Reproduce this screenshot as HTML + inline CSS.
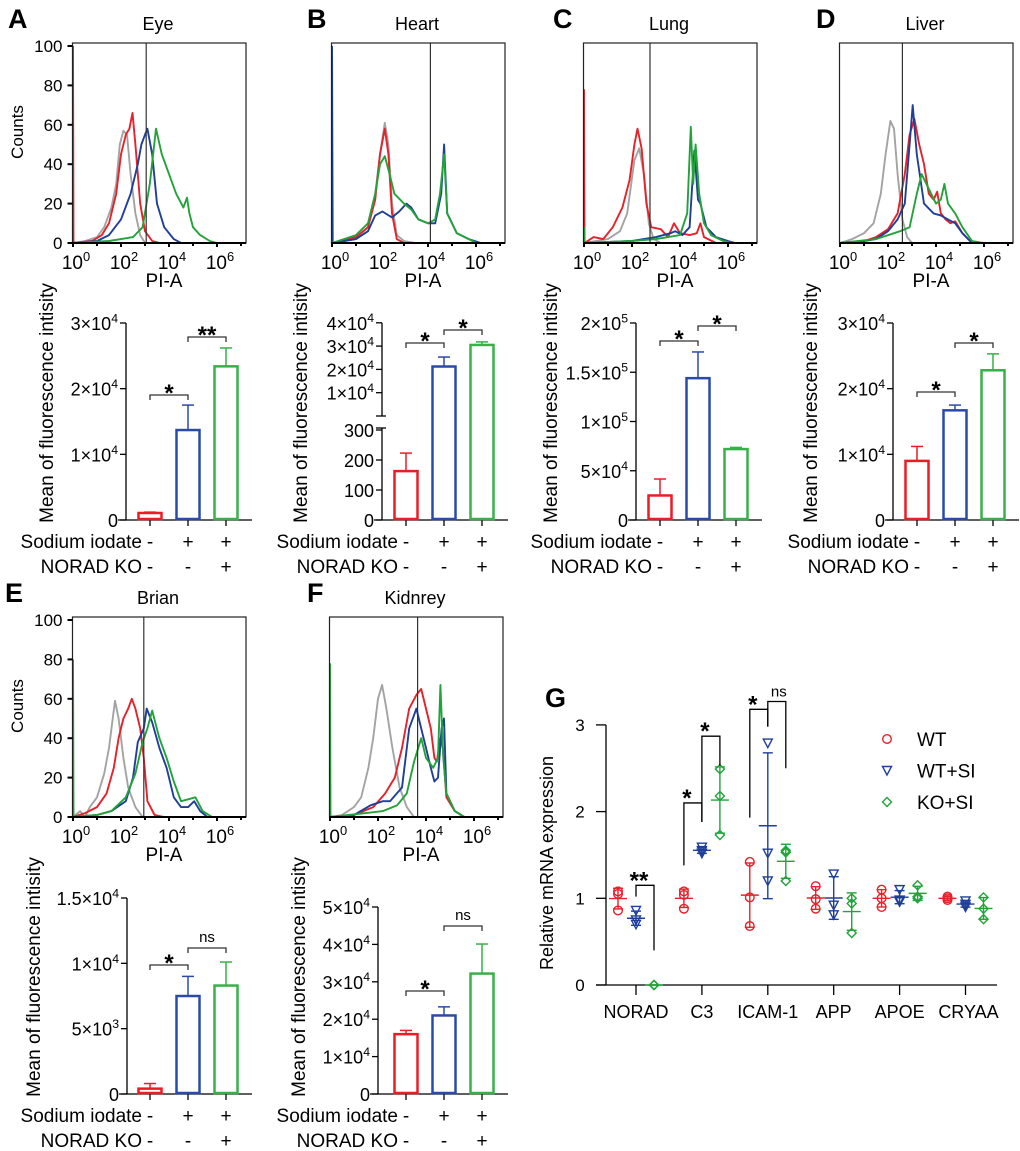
<!DOCTYPE html>
<html><head><meta charset="utf-8"><style>
html,body{margin:0;padding:0;background:#fff}
svg{display:block;font-family:"Liberation Sans",Arial,sans-serif}
</style></head><body>
<svg id="fig" xmlns="http://www.w3.org/2000/svg" width="1020" height="1151" viewBox="0 0 1020 1151"></svg>
<script>
// ---------- Histogram data: [log10(PI-A), counts] ----------
const histEyeGray=[[0,0],[0.5,1],[1,3],[1.3,8],[1.6,18],[1.8,30],[1.95,50],[2.1,57],[2.25,55],[2.4,35],[2.6,15],[2.8,4],[3.0,0],[7.2,0]];
const histEyeRed=[[0,100],[0.02,0],[0.8,1],[1.2,4],[1.5,10],[1.8,25],[2.0,45],[2.2,55],[2.35,58],[2.48,66],[2.6,50],[2.8,20],[3.0,6],[3.3,1],[3.6,0],[7.2,0]];
const histEyeBlue=[[0,0],[1,1],[1.5,4],[2,12],[2.4,25],[2.7,40],[2.85,50],[3.0,55],[3.1,58],[3.3,45],[3.5,20],[3.8,8],[4.2,2],[4.5,0],[7.2,0]];
const histEyeGreen=[[0,0],[1.5,1],[2.5,3],[2.9,8],[3.2,30],[3.46,58],[3.7,45],[4.0,35],[4.3,25],[4.6,18],[4.75,23],[4.85,15],[5.0,8],[5.3,4],[5.7,1],[6.0,0],[7.2,0]];
const histHeartGray=[[0,0],[1,2],[1.5,8],[1.8,25],[2.0,45],[2.2,61],[2.35,50],[2.5,20],[2.7,4],[3.0,1],[3.5,0],[7.2,0]];
const histHeartRed=[[0,0],[1,3],[1.5,8],[1.8,22],[2.0,45],[2.2,58],[2.35,45],[2.5,15],[2.7,2],[3,0],[7.2,0]];
const histHeartGreen=[[0,0],[1,4],[1.5,10],[1.8,25],[2.0,40],[2.2,44],[2.4,35],[2.6,25],[3.0,20],[3.3,17],[3.6,12],[4.0,10],[4.3,12],[4.5,25],[4.67,45],[4.8,15],[5.2,5],[5.7,2],[6,0],[7.2,0]];
const histHeartBlue=[[0,100],[0.03,0],[1,2],[1.5,6],[1.8,14],[2.1,16],[2.5,13],[2.8,16],[3.1,20],[3.3,18],[3.6,12],[4.0,10],[4.3,10],[4.55,25],[4.67,50],[4.8,15],[5.2,5],[5.7,2],[6.2,0],[7.2,0]];
const histLungGray=[[0,0],[1,2],[1.5,6],[1.8,15],[2.1,42],[2.3,48],[2.5,35],[2.7,10],[2.9,2],[3.2,0],[7.2,0]];
const histLungRed=[[0,78],[0.02,0],[0.4,3],[0.8,2],[1.2,8],[1.6,18],[1.9,32],[2.1,50],[2.23,58],[2.4,48],[2.6,20],[2.8,8],[3.2,7],[3.5,3],[3.75,10],[4.0,5],[4.4,4],[4.7,5],[4.85,10],[5.0,3],[5.5,0],[7.2,0]];
const histLungGreen=[[0,8],[0.03,0],[2,1],[3,2],[4,4],[4.3,15],[4.45,59],[4.55,30],[4.65,50],[4.8,25],[5.0,10],[5.3,4],[5.8,1],[6.2,0],[7.2,0]];
const histLungBlue=[[0,0],[2,1],[3,3],[3.6,5],[3.8,6],[4.1,4],[4.4,8],[4.6,47],[4.75,22],[4.85,20],[5.1,8],[5.5,3],[6,1],[6.3,0],[7.2,0]];
const histLiverGray=[[0,0],[0.5,2],[1,5],[1.4,10],[1.7,25],[1.9,45],[2.1,62],[2.25,58],[2.4,35],[2.6,12],[2.8,3],[3,0],[7.2,0]];
const histLiverRed=[[0,0],[1,1],[1.5,3],[2,7],[2.4,15],[2.7,35],[2.9,55],[3.1,63],[3.3,50],[3.5,40],[3.7,25],[3.9,22],[4.05,26],[4.2,15],[4.4,12],[4.6,10],[4.8,11],[5.1,5],[5.5,0],[7.2,0]];
const histLiverBlue=[[0,0],[1,1],[1.5,2],[2,6],[2.4,12],[2.7,20],[2.9,50],[3.03,70],[3.2,45],[3.5,20],[3.9,15],[4.2,14],[4.5,12],[4.8,10],[5.1,5],[5.5,0],[7.2,0]];
const histLiverGreen=[[0,0],[1.5,2],[2.5,6],[2.9,8],[3.2,25],[3.4,35],[3.6,30],[3.8,25],[4.0,20],[4.2,22],[4.35,30],[4.5,20],[4.8,15],[5.1,8],[5.5,1],[6,0],[7.2,0]];
const histBrainGray=[[0,0],[0.3,3],[0.5,0],[0.7,5],[1,10],[1.3,22],[1.5,35],[1.75,59],[1.9,50],[2.1,30],[2.3,15],[2.6,5],[2.9,0],[7.2,0]];
const histBrainRed=[[0,0],[0.5,2],[1,5],[1.4,12],[1.7,25],[1.9,40],[2.1,50],[2.3,55],[2.45,60],[2.6,55],[2.8,45],[2.95,30],[3.1,8],[3.4,1],[3.8,0],[7.2,0]];
const histBrainBlue=[[0,0],[1,1],[1.6,3],[2.2,8],[2.5,20],[2.7,38],[2.95,45],[3.07,55],[3.3,48],[3.6,35],[3.9,25],[4.2,10],[4.5,5],[4.8,5],[5.05,8],[5.3,3],[5.6,0],[7.2,0]];
const histBrainGreen=[[0,80],[0.02,0],[1,1],[1.6,3],[2.2,10],[2.6,22],[2.9,38],[3.1,45],[3.3,54],[3.6,40],[3.9,30],[4.2,18],[4.5,8],[4.8,9],[5.1,10],[5.4,3],[5.8,0],[7.2,0]];
const histKidneyGray=[[0,0],[0.5,1],[1,5],[1.3,10],[1.6,25],[1.8,40],[2.0,60],[2.17,67],[2.35,55],[2.6,35],[2.9,15],[3.2,5],[3.5,0],[7.2,0]];
const histKidneyRed=[[0,0],[1,1],[1.8,5],[2.3,12],[2.7,20],[3.0,35],[3.3,55],[3.6,62],[3.8,65],[4.0,55],[4.2,45],[4.35,30],[4.45,28],[4.6,40],[4.7,35],[4.85,10],[5.2,3],[5.6,0],[7.2,0]];
const histKidneyBlue=[[0,0],[1,1],[1.7,6],[2.2,8],[2.5,8],[3.0,15],[3.3,45],[3.6,55],[3.8,45],[4.0,35],[4.2,25],[4.35,18],[4.5,20],[4.65,45],[4.75,50],[4.85,12],[5.2,3],[5.6,0],[7.2,0]];
const histKidneyGreen=[[0,78],[0.02,0],[1.5,2],[2.2,3],[2.8,6],[3.2,12],[3.5,28],[3.8,40],[4.0,30],[4.3,25],[4.5,30],[4.6,67],[4.72,30],[4.85,12],[5.2,3],[5.6,0],[7.2,0]];
const gates=[3.05,4.1,2.75,2.6,2.95,3.65];
const histDecades=[0,2,4,6];
const countTicks=[0,20,40,60,80,100];

// ---------- Bar data ----------
const barMeansEye=[1070,13700,23400], barErrEye=[1200,17500,26200];
const barMeansHeart=[163,21240,30500], barErrHeart=[223,25300,31800];
const barMeansLung=[24900,144000,72000], barErrLung=[41600,170600,73700];
const barMeansLiver=[9000,16700,22800], barErrLiver=[11200,17500,25300];
const barMeansBrain=[410,7500,8300], barErrBrain=[800,9000,10100];
const barMeansKidney=[16000,21000,32200], barErrKidney=[17000,23300,40100];
const ticksEye=[0,10000,20000,30000], tickLabEye=[["0"],["1×10","4"],["2×10","4"],["3×10","4"]];
const ticksHeartLow=[0,100,200,300], ticksHeartHigh=[10000,20000,30000,40000];
const tickLabHeart=[["0"],["100"],["200"],["300"],["1×10","4"],["2×10","4"],["3×10","4"],["4×10","4"]];
const ticksLung=[0,50000,100000,150000,200000], tickLabLung=[["0"],["5×10","4"],["1×10","5"],["1.5×10","5"],["2×10","5"]];
const ticksBrain=[0,5000,10000,15000], tickLabBrain=[["0"],["5×10","3"],["1×10","4"],["1.5×10","4"]];
const ticksKidney=[0,10000,20000,30000,40000,50000], tickLabKidney=[["0"],["1×10","4"],["2×10","4"],["3×10","4"],["4×10","4"],["5×10","4"]];

// ---------- Panel G data ----------
const genes=["NORAD","C3","ICAM-1","APP","APOE","CRYAA"];
const gWT=[[1.08,1.05,0.86],[1.08,1.04,0.88],[1.42,1.01,0.68],[1.14,0.99,0.88],[1.1,1.0,0.9],[1.02,1.0,0.98]];
const gWTSI=[[0.86,0.75,0.70],[1.59,1.55,1.52],[2.79,1.52,1.20],[1.28,0.92,0.81],[1.1,0.98,0.96],[0.97,0.93,0.9]];
const gKOSI=[[0.0,0.0,0.0],[2.49,2.18,1.73],[1.55,1.53,1.20],[1.0,0.94,0.6],[1.15,1.02,1.0],[1.01,0.88,0.76]];
const gTicks=[0,1,2,3];

const NS="http://www.w3.org/2000/svg";
const svg=document.getElementById('fig');
const RED="#e8202a",BLUE="#1f3f99",GREEN="#22a33a",GRAY="#a3a3a3";
const BRED="#ec1c24",BBLUE="#2a4aa8",BGREEN="#38b049";
function mk(tag,attrs,parent){const e=document.createElementNS(NS,tag);for(const k in attrs)e.setAttribute(k,attrs[k]);(parent||svg).appendChild(e);return e;}
function txt(x,y,s,size,anchor,parent,extra){const t=mk('text',Object.assign({x:x,y:y,'font-size':size,'text-anchor':anchor||'middle',fill:'#000'},extra||{}),parent);t.textContent=s;return t;}
function supTxt(x,y,base,sup,size,anchor,parent){const t=mk('text',{x:x,y:y,'font-size':size,'text-anchor':anchor,fill:'#000'},parent);const a=mk('tspan',{},t);a.textContent=base;if(sup){const b=mk('tspan',{dy:-size*0.42,'font-size':size*0.68},t);b.textContent=sup;}return t;}

function hist(ox,oy,title,letter,letterX,curves,gate,withY,idx){
  const g=mk('g',{});
  
  
  const x0=ox+73, bx0=ox+72.5,bx1=ox+246,by0=oy+43,by1=oy+243;
  const xs=l=>x0+24*l, ys=c=>oy+243-1.97*c;
  const L=txt(letterX,oy+28,letter,27,'start',g,{'font-weight':'bold'});
  
  
  const T=txt(ox+158,oy+30,title,18,'middle',g);
  
  
  const cid='clip'+idx;
  const cp=mk('clipPath',{id:cid},g);mk('rect',{x:bx0,y:by0,width:bx1-bx0,height:by1-by0},cp);
  const cols=[GRAY,RED,BLUE,GREEN], names=['control-gray','wt','wt-si','ko-si'];
  curves.forEach((c,i)=>{
    const p=mk('polyline',{points:c.map(d=>xs(d[0]).toFixed(1)+','+ys(d[1]).toFixed(1)).join(' '),fill:'none',stroke:cols[i],'stroke-width':1.9,'clip-path':'url(#'+cid+')','stroke-linejoin':'round'},g);
    
    
  });
  const gl=mk('line',{x1:xs(gate),x2:xs(gate),y1:by0,y2:by1,stroke:'#333','stroke-width':1.2},g);
  
  
  const box=mk('rect',{x:bx0,y:by0,width:bx1-bx0,height:by1-by0,fill:'none',stroke:'#222','stroke-width':1.2},g);
  
  
  mk('line',{x1:bx0,x2:bx1,y1:by1,y2:by1,stroke:'#000','stroke-width':2},g);
  for(let d=0;d<=7;d++){mk('line',{x1:xs(d),x2:xs(d),y1:by1,y2:by1+(d%2?3:4),stroke:'#000','stroke-width':2},g);}
  histDecades.forEach(d=>{const t=supTxt(xs(d)+3,oy+269,'10',String(d),19,'middle',g);
    
    });
  const xl=txt(ox+164,oy+287,'PI-A',19,'middle',g);
  
  
  if(withY){
    countTicks.forEach(c=>{mk('line',{x1:bx0-5,x2:bx0,y1:ys(c),y2:ys(c),stroke:'#000','stroke-width':2},g);
      const t=txt(bx0-10,ys(c)+6,String(c),17,'end',g);
      
      });
    const yl=txt(0,0,'Counts',17,'middle',g,{transform:'translate('+(ox+23)+','+(oy+132)+') rotate(-90)'});
    
    
  }
}

function barPanel(ox,oy,ax,yfun,ticks,labels,means,errs,brackets,titleX,breakInfo){
  const g=mk('g',{});
  
  
  const base=oy+520;
  const topY=yfun(ticks[ticks.length-1]);
  if(breakInfo){
    mk('line',{x1:ax,x2:ax,y1:base,y2:breakInfo[0],stroke:'#000','stroke-width':1.3},g);
    mk('line',{x1:ax,x2:ax,y1:breakInfo[1],y2:topY,stroke:'#000','stroke-width':1.3},g);
    mk('line',{x1:ax-6,x2:ax+4,y1:breakInfo[0],y2:breakInfo[0],stroke:'#000','stroke-width':1.3},g);
    mk('line',{x1:ax-6,x2:ax+4,y1:breakInfo[1],y2:breakInfo[1],stroke:'#000','stroke-width':1.3},g);
  } else mk('line',{x1:ax,x2:ax,y1:base,y2:topY,stroke:'#000','stroke-width':1.3},g);
  mk('line',{x1:ax-8,x2:ox+252,y1:base,y2:base,stroke:'#000','stroke-width':1.3},g);
  ticks.forEach((v,i)=>{const y=yfun(v);mk('line',{x1:ax-6,x2:ax,y1:y,y2:y,stroke:'#000','stroke-width':1.3},g);
    const t=supTxt(ax-8,y+7,labels[i][0],labels[i][1],18,'end',g);
    
    });
  const cx=[ox+150,ox+188,ox+226], cols=[BRED,BBLUE,BGREEN], nm=['bar-control','bar-sodium-iodate','bar-norad-ko'];
  means.forEach((m,i)=>{
    mk('line',{x1:cx[i],x2:cx[i],y1:base,y2:base+6,stroke:'#000','stroke-width':1.3},g);
    const ey=yfun(errs[i]), my=yfun(m);
    mk('line',{x1:cx[i],x2:cx[i],y1:my,y2:ey,stroke:cols[i],'stroke-width':1.5},g);
    mk('line',{x1:cx[i]-6,x2:cx[i]+6,y1:ey,y2:ey,stroke:cols[i],'stroke-width':1.5},g);
    const r=mk('rect',{x:cx[i]-11.5,y:my,width:23,height:Math.max(0,base-my-1),fill:'#fff',stroke:cols[i],'stroke-width':2.5},g);
    
    
  });
  brackets.forEach(b=>{
    const x1=cx[b[0]],x2=cx[b[1]],y=b[2];
    mk('polyline',{points:x1+','+(y+5)+' '+x1+','+y+' '+x2+','+y+' '+x2+','+(y+5),fill:'none',stroke:'#333','stroke-width':1.3},g);
    const ns=b[3]==='ns';
    const t=txt((x1+x2)/2,ns?y-6:y+6,b[3],ns?15:24,'middle',g,ns?{}:{'font-weight':'bold'});
    
    
  });
  const r1=oy+548,r2=oy+573;
  const s=txt(ox+142,r1,'Sodium iodate',19,'end',g);
  
  
  const k=txt(ox+142,r2,'NORAD KO',19,'end',g);
  
  
  [['-','+','+'],['-','-','+']].forEach((row,j)=>row.forEach((c,i)=>{const t=txt(cx[i],j?r2:r1,c,19,'middle',g);
    
    }));
  const yl=txt(0,0,'Mean of fluorescence intisity',19,'middle',g,{transform:'translate('+titleX+','+(oy+403)+') rotate(-90)'});
  
  
}

// Histograms
hist(0,0,'Eye','A',8,[histEyeGray,histEyeRed,histEyeBlue,histEyeGreen],gates[0],true,0);
hist(259,0,'Heart','B',307,[histHeartGray,histHeartRed,histHeartBlue,histHeartGreen],gates[1],false,1);
hist(511,0,'Lung','C',553,[histLungGray,histLungRed,histLungBlue,histLungGreen],gates[2],false,2);
hist(767,0,'Liver','D',816,[histLiverGray,histLiverRed,histLiverBlue,histLiverGreen],gates[3],false,3);
hist(0,574,'Brian','E',5,[histBrainGray,histBrainRed,histBrainBlue,histBrainGreen],gates[4],true,4);
hist(257,574,'Kidnrey','F',307,[histKidneyGray,histKidneyRed,histKidneyBlue,histKidneyGreen],gates[5],false,5);

// Bars
const linY=(oy,max,px)=>v=>oy+520-v*px/max;
barPanel(0,0,126,linY(0,30000,197),ticksEye,tickLabEye,barMeansEye,barErrEye,[[0,1,395,'*'],[1,2,337,'**']],53);
const heartY=v=>v<=350?520-v*0.30:416-v*23.3/10000;
barPanel(256,0,382,heartY,ticksHeartLow.concat(ticksHeartHigh),tickLabHeart,barMeansHeart,barErrHeart,[[0,1,343,'*'],[1,2,330,'*']],307,[428,416]);
barPanel(510,0,636,linY(0,200000,197),ticksLung,tickLabLung,barMeansLung,barErrLung,[[0,1,341,'*'],[1,2,326,'*']],557);
barPanel(767,0,893,linY(0,30000,197),ticksEye,tickLabEye,barMeansLiver,barErrLiver,[[0,1,392,'*'],[1,2,343,'*']],817);
barPanel(0,574,127,linY(574,15000,196),ticksBrain,tickLabBrain,barMeansBrain,barErrBrain,[[0,1,965,'*'],[1,2,948,'ns']],40);
barPanel(256,574,378,linY(574,50000,187),ticksKidney,tickLabKidney,barMeansKidney,barErrKidney,[[0,1,991,'*'],[1,2,926,'ns']],305);

// Panel G
(function(){
  const g=mk('g',{});
  
  
  const ax=606, y0=985, ppu=86.7;
  const ys=v=>y0-v*ppu, xc=i=>636+65.9*i;
  const L=txt(545,707,'G',27,'start',g,{'font-weight':'bold'});
  
  
  mk('line',{x1:ax,x2:ax,y1:y0,y2:ys(3),stroke:'#000','stroke-width':1.3},g);
  mk('line',{x1:596,x2:997,y1:y0,y2:y0,stroke:'#000','stroke-width':1.3},g);
  gTicks.forEach(v=>{mk('line',{x1:ax-10,x2:ax,y1:ys(v),y2:ys(v),stroke:'#000','stroke-width':1.3},g);
    const t=txt(580,ys(v)+6,String(v),17,'middle',g);
    
    });
  genes.forEach((n,i)=>{mk('line',{x1:xc(i),x2:xc(i),y1:y0,y2:y0+10,stroke:'#000','stroke-width':1.3},g);
    const t=txt(xc(i)+(i==5?3:0),y0+33,n,18,'middle',g);
    
    });
  const yl=txt(0,0,'Relative mRNA expression',18,'middle',g,{transform:'translate(553,863) rotate(-90)'});
  
  
  function marker(shape,x,y,col,par){
    if(shape==0) return mk('circle',{cx:x,cy:y,r:4.3,fill:'none',stroke:col,'stroke-width':1.4},par);
    if(shape==1) return mk('polygon',{points:(x-4.5)+','+(y-4)+' '+(x+4.5)+','+(y-4)+' '+x+','+(y+4.5),fill:'none',stroke:col,'stroke-width':1.4},par);
    return mk('polygon',{points:x+','+(y-4.5)+' '+(x+4.5)+','+y+' '+x+','+(y+4.5)+' '+(x-4.5)+','+y,fill:'none',stroke:col,'stroke-width':1.4},par);
  }
  const groups=[gWT,gWTSI,gKOSI], cols=[RED,BLUE,GREEN], off=[-18,0,18], gnames=['wt','wt-si','ko-si'];
  groups.forEach((grp,k)=>grp.forEach((pts,i)=>{
    const x=xc(i)+off[k];
    const m=pts.reduce((a,b)=>a+b,0)/pts.length;
    const sd=Math.sqrt(pts.reduce((a,b)=>a+(b-m)*(b-m),0)/(pts.length-1));
    mk('line',{x1:x,x2:x,y1:ys(m-sd),y2:ys(m+sd),stroke:cols[k],'stroke-width':1.4},g);
    mk('line',{x1:x-5,x2:x+5,y1:ys(m-sd),y2:ys(m-sd),stroke:cols[k],'stroke-width':1.4},g);
    mk('line',{x1:x-5,x2:x+5,y1:ys(m+sd),y2:ys(m+sd),stroke:cols[k],'stroke-width':1.4},g);
    mk('line',{x1:x-9,x2:x+9,y1:ys(m),y2:ys(m),stroke:cols[k],'stroke-width':1.4},g);
    pts.forEach(v=>{const mm=marker(k,x,ys(v),cols[k],g);
      
      });
  }));
  const gBr=[[xc(0),xc(0)+18,1.15,1.02,0.4,'**'],[xc(1)-18,xc(1),2.1,1.38,1.88,'*'],[xc(1),xc(1)+18,2.87,1.88,2.53,'*'],[xc(2)-18,xc(2),3.18,1.93,2.98,'*'],[xc(2),xc(2)+18,3.27,2.98,2.5,'ns']];
  gBr.forEach(b=>{
    mk('polyline',{points:b[0]+','+ys(b[3])+' '+b[0]+','+ys(b[2])+' '+b[1]+','+ys(b[2])+' '+b[1]+','+ys(b[4]),fill:'none',stroke:'#000','stroke-width':1.3},g);
    const ns=b[5]==='ns';
    const t=txt((b[0]+b[1])/2+(ns?2:-6),ns?ys(b[2])-5:ys(b[2])+3,b[5],ns?15:24,'middle',g,ns?{}:{'font-weight':'bold'});
    
    
  });
  const leg=['WT','WT+SI','KO+SI'];
  leg.forEach((s,k)=>{
    const y=739+31.5*k;
    const lg=mk('g',{},g);
    
    
    marker(k,887,y,cols[k],lg);
    txt(917,y+7,s,19,'start',lg);
  });
})();
</script>
</body></html>
